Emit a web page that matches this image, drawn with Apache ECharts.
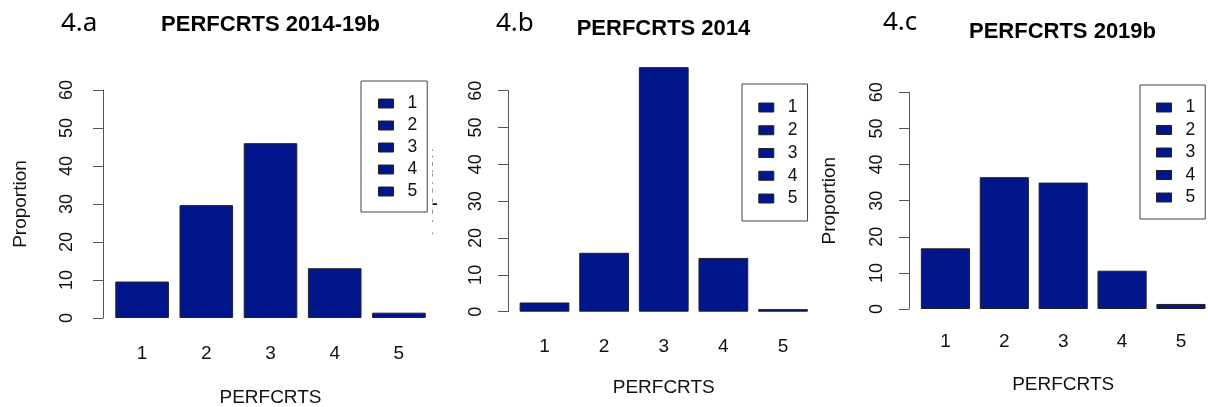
<!DOCTYPE html>
<html>
<head>
<meta charset="utf-8">
<script src="https://cdn.jsdelivr.net/npm/echarts@6/dist/echarts.min.js"></script>
<style>
html,body{margin:0;padding:0;background:#fff;}
#chart{width:1208px;height:407px;}
</style>
</head>
<body>
<div id="chart"></div>
<script>
// ---- data ----
const categories = ['1', '2', '3', '4', '5'];
const valuesA = [9.6, 29.7, 46.0, 13.1, 1.4];   // PERFCRTS 2014-19b
const valuesB = [2.5, 16.0, 66.4, 14.6, 0.7];   // PERFCRTS 2014
const valuesC = [16.8, 36.5, 35.0, 10.6, 1.4];  // PERFCRTS 2019b
const panelTitles = ['PERFCRTS 2014-19b', 'PERFCRTS 2014', 'PERFCRTS 2019b'];
const panelTags = ['4.a', '4.b', '4.c'];
const legendNames = ['1', '2', '3', '4', '5'];
const xName = 'PERFCRTS';
const yName = 'Proportion';
const yMin = 0, yMax = 60, yStep = 10;

// ---- styling ----
const FONT = '"Liberation Sans", Arial, sans-serif';
const BAR = '#02168C';
const AXIS = '#555';

const grids = [
  { left: 110, top: 90, width: 321, height: 228, outerBoundsMode: 'none', containLabel: false },
  { left: 514.7, top: 90.7, width: 298.1, height: 221, outerBoundsMode: 'none', containLabel: false },
  { left: 916, top: 92.3, width: 294.4, height: 216.7, outerBoundsMode: 'none', containLabel: false }
];
const yOffsets = [7, 6.7, 7];
const yLabelMargins = [27, 23, 23];
const xLabelMargins = [26, 25.5, 23.5];
const xNameGaps = [70.5, 67, 66.5];
const yNameGaps = [73, 73, 69.5];
const showYName = [true, false, true];
const tagPos = [[61, 24], [496, 24], [883, 23]];
const titlePos = [[270.5, 25], [663.5, 29], [1062.5, 32]];
const legendBoxes = [
  { left: 361, top: 81, gap: 4, pad: [13.5, 10, 11.5, 17] },
  { left: 742, top: 84, gap: 4.75, pad: [14.5, 10, 13.5, 16.3] },
  { left: 1140, top: 85, gap: 4.5, pad: [13.5, 10, 12.5, 16] }
];
const allValues = [valuesA, valuesB, valuesC];

const xAxes = grids.map((g, i) => ({
  type: 'category',
  gridIndex: i,
  data: categories,
  axisLine: { show: false },
  axisTick: { show: false },
  axisLabel: { margin: xLabelMargins[i], fontSize: 19, color: '#111', fontFamily: FONT },
  name: xName,
  nameLocation: 'middle',
  nameGap: xNameGaps[i],
  nameTextStyle: { fontSize: 19, color: '#111', fontFamily: FONT }
}));

const yAxes = grids.map((g, i) => ({
  type: 'value',
  gridIndex: i,
  min: yMin, max: yMax, interval: yStep,
  offset: yOffsets[i],
  splitLine: { show: false },
  axisLine: { show: true, lineStyle: { color: AXIS, width: 1 } },
  axisTick: { show: true, length: 10, lineStyle: { color: AXIS, width: 1 } },
  axisLabel: { rotate: 90, margin: yLabelMargins[i], fontSize: 18, color: '#111', fontFamily: FONT },
  name: showYName[i] ? yName : '',
  nameLocation: 'middle',
  nameRotate: 90,
  nameGap: yNameGaps[i],
  nameTextStyle: { fontSize: 19, color: '#111', fontFamily: FONT }
}));

const series = allValues.map((vals, i) => ({
  name: panelTitles[i],
  type: 'bar',
  xAxisIndex: i,
  yAxisIndex: i,
  data: vals,
  barWidth: '83.5%',
  clip: false,
  itemStyle: { color: BAR, borderColor: '#222', borderWidth: 1 },
  emphasis: { disabled: true },
  animation: false
}));
legendNames.forEach(n => series.push({
  name: n, type: 'scatter', xAxisIndex: 0, yAxisIndex: 0, data: [],
  itemStyle: { color: BAR, borderColor: '#222', borderWidth: 1, opacity: 1 }
}));

const legends = legendBoxes.map(b => ({
  data: legendNames,
  orient: 'vertical',
  left: b.left, top: b.top,
  padding: b.pad,
  itemGap: b.gap,
  itemWidth: 15, itemHeight: 9,
  icon: 'rect',
  selectedMode: false,
  borderColor: '#444', borderWidth: 1,
  backgroundColor: '#fff',
  z: 10,
  itemStyle: { color: BAR, borderColor: '#222', borderWidth: 1, opacity: 1 },
  textStyle: { fontSize: 17.5, lineHeight: 17, color: '#111', fontFamily: FONT, padding: [0, 0, 0, 9] }
}));

const graphics = [];
panelTags.forEach((t, i) => graphics.push({
  type: 'text', x: tagPos[i][0], y: tagPos[i][1],
  style: { text: t, fontSize: 26, fontFamily: '"Noto Sans", "Open Sans", sans-serif', fill: '#000', textAlign: 'left', textVerticalAlign: 'middle' }
}));
panelTitles.forEach((t, i) => graphics.push({
  type: 'text', x: titlePos[i][0], y: titlePos[i][1],
  style: { text: t, fontSize: 22, fontWeight: 'bold', fontFamily: FONT, fill: '#000', textAlign: 'center', textVerticalAlign: 'middle' }
}));
// hidden y-axis title of panel b, mostly covered in the reference
graphics.push({
  type: 'text', x: 437, y: 192, rotation: Math.PI / 2, z: 0,
  style: { text: yName, fontSize: 19, fontFamily: FONT, fill: '#111', textAlign: 'center', textVerticalAlign: 'bottom' }
});
graphics.push({
  type: 'rect', z: 1, shape: { x: 405, y: 140, width: 27.5, height: 110 },
  style: { fill: '#fff' }
});

const chart = echarts.init(document.getElementById('chart'), null, { renderer: 'canvas' });
chart.setOption({
  animation: false,
  backgroundColor: '#fff',
  grid: grids,
  xAxis: xAxes,
  yAxis: yAxes,
  legend: legends,
  series: series,
  graphic: { elements: graphics }
});
</script>
</body>
</html>
